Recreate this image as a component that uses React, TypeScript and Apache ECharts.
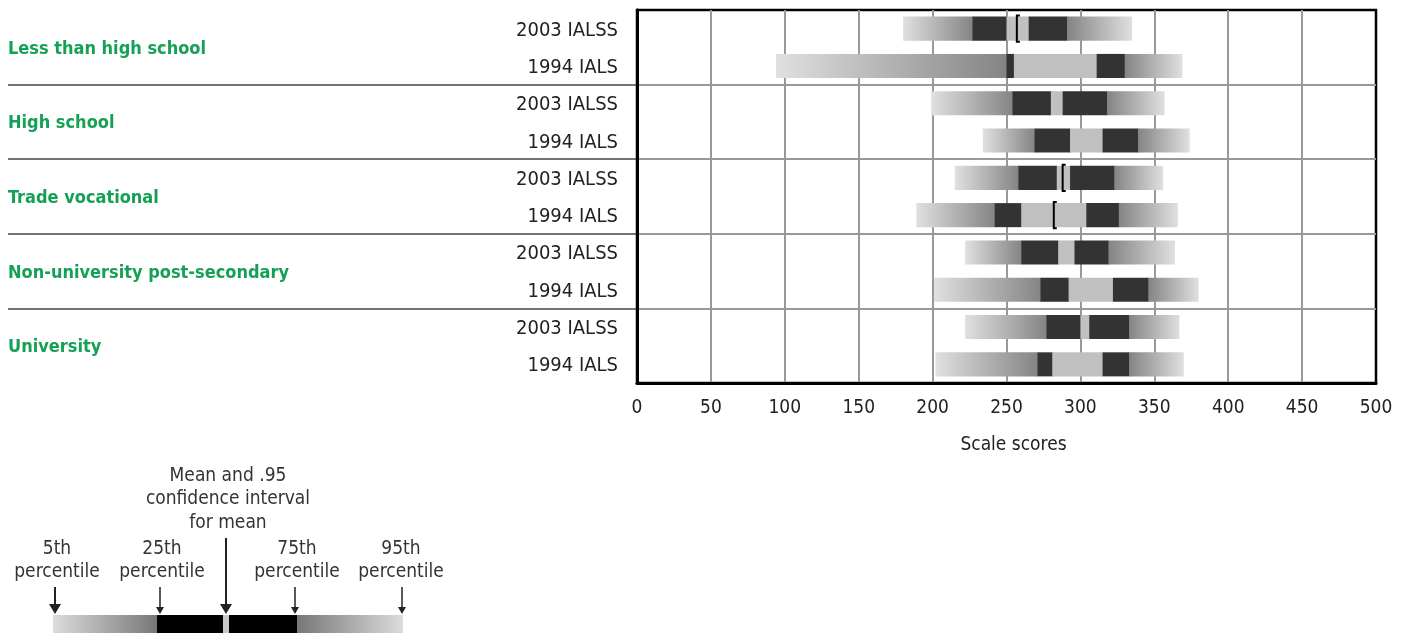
import React, { useEffect, useRef } from "react";
import * as echarts from "echarts";

const groups = [
  "Less than high school",
  "High school",
  "Trade vocational",
  "Non-university post-secondary",
  "University",
];
const surveys = ["2003 IALSS", "1994 IALS"];
const rows = groups.flatMap((g) => surveys.map((s) => g + "|" + s));

const p5 = [180, 94, 199, 234, 215, 189, 222, 201, 222, 202];
const p25 = [227, 250, 254, 269, 258, 242, 260, 273, 277, 271];
const ciLow = [250, 255, 280, 293, 284, 260, 285, 292, 300, 281];
const ciHigh = [265, 311, 288, 315, 293, 304, 296, 322, 306, 315];
const p75 = [291, 330, 318, 339, 323, 326, 319, 346, 333, 333];
const p95 = [335, 369, 357, 374, 356, 366, 364, 380, 367, 370];
const means: (number | null)[] = [257, null, null, null, 288, 282, null, null, null, null];

const xTicks = [0, 50, 100, 150, 200, 250, 300, 350, 400, 450, 500];

const FONT = "'Liberation Sans Narrow', 'DejaVu Sans Condensed', 'Roboto Condensed', sans-serif";
const GREEN = "#14a055";
const LIGHT = "#e0e0e0";
const MID = "#848484";
const DARK = "#333333";
const CI = "#c0c0c0";

function grad(from: string, to: string) {
  return new echarts.graphic.LinearGradient(0, 0, 1, 0, [
    { offset: 0, color: from },
    { offset: 1, color: to },
  ]);
}

function renderItem(params: any, api: any) {
  const row = api.value(0);
  const cy = api.coord([0, row])[1];
  const band = api.size([0, 1])[1];
  const h = band * 0.645;
  const top = cy - h / 2;
  const X = (v: number) => api.coord([v, row])[0];
  const a = X(api.value(1));
  const b = X(api.value(2));
  const c = X(api.value(3));
  const d = X(api.value(4));
  const e = X(api.value(5));
  const f = X(api.value(6));
  const children: any[] = [
    { type: "rect", shape: { x: a, y: top, width: b - a + 0.5, height: h }, style: { fill: grad(LIGHT, MID) } },
    { type: "rect", shape: { x: b, y: top, width: c - b + 0.5, height: h }, style: { fill: DARK } },
    { type: "rect", shape: { x: c, y: top, width: d - c + 0.5, height: h }, style: { fill: CI } },
    { type: "rect", shape: { x: d, y: top, width: e - d + 0.5, height: h }, style: { fill: DARK } },
    { type: "rect", shape: { x: e, y: top, width: f - e, height: h }, style: { fill: grad(MID, LIGHT) } },
  ];
  const m = api.value(7);
  if (!isNaN(m) && m !== null && m !== "-") {
    const mx = X(m);
    children.push({
      type: "polyline",
      shape: {
        points: [
          [mx + 3, top - 1],
          [mx, top - 1],
          [mx, top + h + 1],
          [mx + 3, top + h + 1],
        ],
      },
      style: { stroke: "#000", lineWidth: 2, fill: null },
    });
  }
  return { type: "group", children };
}

function legendGraphic() {
  const y0 = 615;
  const bh = 18;
  const txt = (x: number, y: number, t: string) => ({
    type: "text",
    x,
    y,
    style: { text: t, fill: "#333", font: "19px " + FONT, textAlign: "center", textVerticalAlign: "middle" },
  });
  const arrow = (x: number, yTop: number, big: boolean) => {
    const w = big ? 6 : 4;
    const ah = big ? 10 : 7;
    return [
      { type: "line", shape: { x1: x, y1: yTop, x2: x, y2: y0 - ah + 1 }, style: { stroke: "#222", lineWidth: big ? 2 : 1.5 } },
      { type: "polygon", shape: { points: [[x - w, y0 - ah - 1], [x + w, y0 - ah - 1], [x, y0 - 1]] }, style: { fill: "#222" } },
    ];
  };
  return [
    { type: "rect", shape: { x: 53, y: y0, width: 104.5, height: bh }, style: { fill: grad("#dcdcdc", "#777") } },
    { type: "rect", shape: { x: 157, y: y0, width: 66, height: bh }, style: { fill: "#000" } },
    { type: "rect", shape: { x: 223, y: y0, width: 6, height: bh }, style: { fill: "#c8c8c8" } },
    { type: "rect", shape: { x: 229, y: y0, width: 68.5, height: bh }, style: { fill: "#000" } },
    { type: "rect", shape: { x: 297, y: y0, width: 106, height: bh }, style: { fill: grad("#777", "#dcdcdc") } },
    ...arrow(55, 587, true),
    ...arrow(160, 587, false),
    ...arrow(226, 538, true),
    ...arrow(295, 587, false),
    ...arrow(402, 587, false),
    txt(57, 547, "5th"),
    txt(57, 570, "percentile"),
    txt(162, 547, "25th"),
    txt(162, 570, "percentile"),
    txt(228, 474, "Mean and .95"),
    txt(228, 497, "confidence interval"),
    txt(228, 521, "for mean"),
    txt(297, 547, "75th"),
    txt(297, 570, "percentile"),
    txt(401, 547, "95th"),
    txt(401, 570, "percentile"),
  ];
}

export default function App() {
  const ref = useRef<HTMLDivElement>(null);
  useEffect(() => {
    const chart = echarts.init(ref.current!, null, { renderer: "svg" });
    const data = rows.map((_, i) => [i, p5[i], p25[i], ciLow[i], ciHigh[i], p75[i], p95[i], means[i] === null ? "-" : means[i]]);
    chart.setOption({
      animation: false,
      textStyle: { fontFamily: FONT },
      grid: [
        { left: 637, right: 29, top: 10, bottom: 250, show: true, borderColor: "#000", borderWidth: 2.5, backgroundColor: "transparent" },
        { left: 8, width: 629, top: 10, bottom: 250 },
      ],
      xAxis: [
        {
          type: "value",
          gridIndex: 0,
          min: xTicks[0],
          max: xTicks[xTicks.length - 1],
          interval: 50,
          axisLine: { show: true, lineStyle: { color: "#000", width: 3 } },
          axisTick: { show: false },
          axisLabel: { color: "#222", fontSize: 19, margin: 13, fontFamily: FONT },
          splitLine: { show: true, showMinLine: false, showMaxLine: false, lineStyle: { color: "#999", width: 2 } },
          name: "Scale scores",
          nameLocation: "middle",
          nameGap: 50,
          nameTextStyle: { color: "#222", fontSize: 19, fontFamily: FONT, padding: [0, 0, 0, 14] },
        },
        { type: "value", gridIndex: 1, show: false, min: 0, max: 1 },
      ],
      yAxis: [
        {
          type: "category",
          gridIndex: 0,
          data: rows,
          inverse: true,
          axisLine: { show: true, lineStyle: { color: "#000", width: 3 } },
          axisTick: { show: false },
          axisLabel: {
            color: "#222",
            fontSize: 20,
            margin: 19,
            fontFamily: FONT,
            formatter: (v: string) => v.split("|")[1],
          },
          splitLine: { show: false },
        },
        {
          type: "category",
          gridIndex: 0,
          data: groups,
          inverse: true,
          position: "left",
          axisLine: { show: false },
          axisTick: { show: false },
          axisLabel: { show: false },
          splitLine: { show: true, showMinLine: false, showMaxLine: false, lineStyle: { color: "#999", width: 2 } },
        },
        {
          type: "category",
          gridIndex: 1,
          data: groups,
          inverse: true,
          position: "left",
          axisLine: { show: false },
          axisTick: { show: false },
          axisLabel: {
            align: "left",
            margin: 0,
            color: GREEN,
            fontWeight: "bold",
            fontSize: 18,
            fontFamily: FONT,
          },
          splitLine: { show: true, showMinLine: false, showMaxLine: false, lineStyle: { color: "#444", width: 1.5 } },
        },
      ],
      series: [
        {
          type: "custom",
          xAxisIndex: 0,
          yAxisIndex: 0,
          renderItem,
          encode: { x: [1, 2, 3, 4, 5, 6], y: 0 },
          data,
          z: 5,
        },
      ],
      graphic: legendGraphic(),
    });
    return () => chart.dispose();
  }, []);
  return <div ref={ref} style={{ position: "fixed", left: 0, top: 0, width: 1405, height: 633 }} />;
}
